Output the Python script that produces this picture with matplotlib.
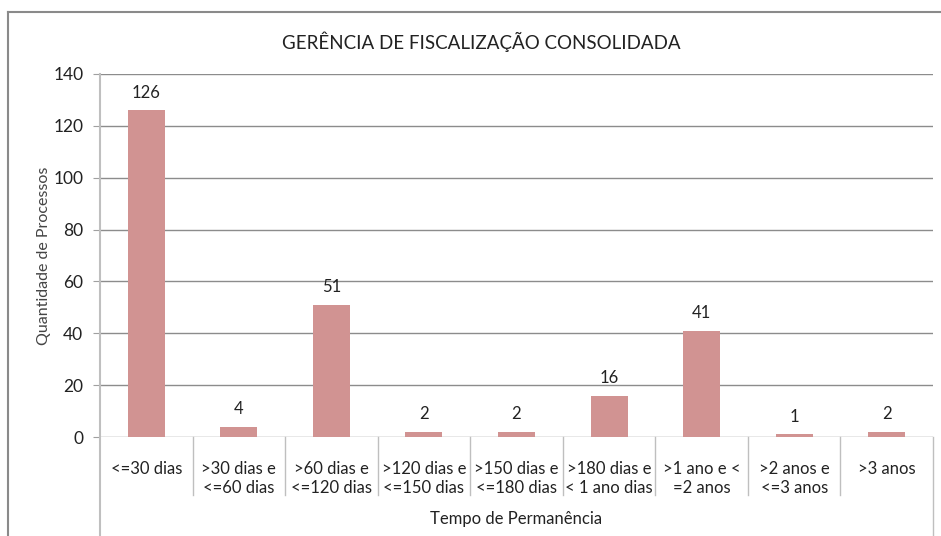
import matplotlib.pyplot as plt
from matplotlib.lines import Line2D
import matplotlib.transforms as mtrans

plt.rcParams['font.family'] = ['Lato', 'DejaVu Sans']

categorias = ['<=30 dias', '>30 dias e\n<=60 dias', '>60 dias e\n<=120 dias',
              '>120 dias e\n<=150 dias', '>150 dias e\n<=180 dias',
              '>180 dias e\n< 1 ano dias', '>1 ano e <\n=2 anos',
              '>2 anos e\n<=3 anos', '>3 anos']
quantidade = [126, 4, 51, 2, 2, 16, 41, 1, 2]
yticks = [0, 20, 40, 60, 80, 100, 120, 140]

W, H = 941, 536
fig = plt.figure(figsize=(W / 100, H / 100), dpi=100)

# moldura externa do grafico
fig.add_artist(Line2D([8 / W, 8 / W], [0, 1 - 12 / H], transform=fig.transFigure, color='#8a8a8a', lw=1.5))
fig.add_artist(Line2D([8 / W, 1], [1 - 12 / H, 1 - 12 / H], transform=fig.transFigure, color='#8a8a8a', lw=1.5))

ax = fig.add_axes([100 / W, (H - 437) / H, 833 / W, 363 / H])
x = range(len(categorias))
ax.bar(x, quantidade, width=0.4, color='#d19392', zorder=3)

for i, v in enumerate(quantidade):
    ax.annotate(str(v), (i, v), xytext=(0, 7), textcoords='offset points',
                ha='center', va='bottom', fontsize=12, color='#222222')

ax.set_xlim(-0.5, len(categorias) - 0.5)
ax.set_ylim(0, 140)
ax.set_yticks(yticks)
ax.tick_params(axis='y', length=5, color='#a0a0a0', labelsize=12.5, pad=7, labelcolor='#222222')
for t in yticks:
    ax.axhline(t, color='#8c8c8c', lw=1, zorder=1)

ax.set_xticks(list(x))
ax.set_xticklabels(categorias, fontsize=12, color='#222222', linespacing=1.25)
ax.tick_params(axis='x', length=0, pad=17)

for s in ['top', 'right', 'bottom', 'left']:
    ax.spines[s].set_visible(False)

# linhas da tabela de categorias
tr = mtrans.blended_transform_factory(ax.transData, ax.transAxes)
ax.plot([-0.5, -0.5], [1, -99 / 363], transform=tr, color='#bfbfbf', lw=1.5, clip_on=False)
ax.plot([8.5, 8.5], [0, -99 / 363], transform=tr, color='#bfbfbf', lw=1, clip_on=False)
for b in range(1, len(categorias)):
    ax.plot([b - 0.5, b - 0.5], [0, -58 / 363], transform=tr, color='#bfbfbf', lw=1, clip_on=False)

ax.set_title('GERÊNCIA DE FISCALIZAÇÃO CONSOLIDADA', fontsize=13.5, color='#222222',
             pad=18, x=(481 - 100) / 833)
ax.set_ylabel('Quantidade de Processos', fontsize=11.5, color='#444444')
ax.yaxis.set_label_coords((51 - 100) / 833, 0.5)
ax.set_xlabel('Tempo de Permanência', fontsize=12, color='#222222', labelpad=11)

fig.savefig('out.png', dpi=100)
